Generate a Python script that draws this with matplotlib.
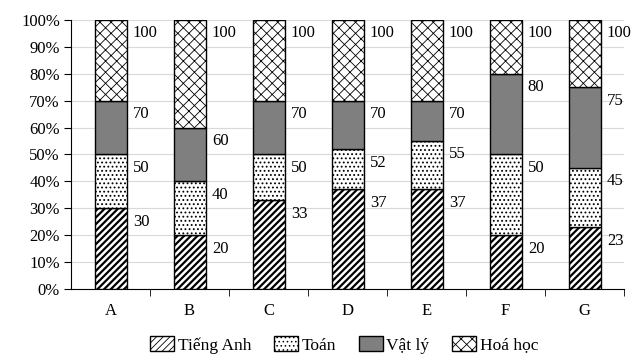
import matplotlib.pyplot as plt
import numpy as np

plt.rcParams['font.family'] = ['Liberation Serif', 'DejaVu Serif']

categories = ['A', 'B', 'C', 'D', 'E', 'F', 'G']
series_names = ['Tiếng Anh', 'Toán', 'Vật lý', 'Hoá học']
# cumulative values (labels shown in chart)
cum_anh = [30, 20, 33, 37, 37, 20, 23]
cum_toan = [50, 40, 50, 52, 55, 50, 45]
cum_ly = [70, 60, 70, 70, 70, 80, 75]
cum_hoa = [100, 100, 100, 100, 100, 100, 100]

cums = [cum_anh, cum_toan, cum_ly, cum_hoa]
hatches = ['/////', '....', None, 'xxx']
hatch_lw = [1.6, 0.8, 1.0, 0.6]
colors = ['white', 'white', '#7f7f7f', 'white']

fig = plt.figure(figsize=(6.42, 3.62), dpi=100)
ax = fig.add_axes([0.1106, 0.2017, 0.8614, 0.7431])

x = np.arange(len(categories))
w = 0.405
prev = np.zeros(len(categories))
handles = []
for name, cum, h, c, hl in zip(series_names, cums, hatches, colors, hatch_lw):
    plt.rcParams['hatch.linewidth'] = hl
    cum = np.array(cum, dtype=float)
    b = ax.bar(x, cum - prev, w, bottom=prev, color=c, edgecolor='black',
               hatch=h, linewidth=1.0, label=name, zorder=3)
    handles.append(b)
    for xi, v in zip(x, cum):
        ax.text(xi + w / 2 + 0.08, v - 5, f'{int(v)}', ha='left', va='center',
                fontsize=12, color='black')
    prev = cum

ax.set_xlim(-0.5, len(categories) - 0.5)
ax.set_ylim(0, 100)
ax.set_yticks(np.arange(0, 101, 10))
ax.set_yticklabels([f'{v}%' for v in range(0, 101, 10)], fontsize=12)
ax.set_xticks(x)
ax.set_xticklabels(categories, fontsize=12)
ax.tick_params(axis='x', length=0, pad=10)
ax.set_xticks(np.arange(0.5, len(categories), 1), minor=True)
ax.tick_params(axis='x', which='minor', length=5, direction='out')
ax.tick_params(axis='y', length=5, direction='out', pad=3)
ax.grid(axis='y', color='#d9d9d9', linewidth=0.8, zorder=0)
ax.spines['top'].set_visible(False)
ax.spines['right'].set_visible(False)

fig.legend(handles=handles, labels=series_names, loc='center',
           bbox_to_anchor=(0.536, 0.047), ncol=4, frameon=False, fontsize=12.5,
           handlelength=1.4, handleheight=0.9, columnspacing=1.3, handletextpad=0.2)

fig.savefig('out.png', dpi=100)
